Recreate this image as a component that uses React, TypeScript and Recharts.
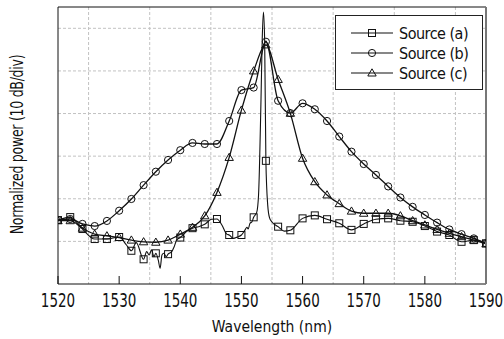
import { LineChart, Line, XAxis, YAxis, CartesianGrid, Legend, Label, ReferenceLine } from 'recharts'

// wavelengths (nm) where sources (b) and (c) are sampled, one marker each
const WAVE_BC = [
  1520, 1522, 1524, 1526, 1528, 1530, 1532, 1534, 1536, 1538, 1540, 1542,
  1544, 1546, 1548, 1550, 1552, 1554, 1556, 1558, 1560, 1562, 1564, 1566,
  1568, 1570, 1572, 1574, 1576, 1578, 1580, 1582, 1584, 1586, 1588, 1590,
]
const POWER_B = [
  -50.0, -49.75, -50.9, -51.4, -50.2, -47.8, -45.05, -41.8, -38.65, -35.9, -33.6, -31.9,
  -32.15, -32.15, -26.75, -19.5, -18.9, -8.15, -22.0, -24.9, -22.6, -24.0, -26.75, -30.4,
  -33.95, -36.85, -39.4, -42.1, -44.7, -46.9, -48.8, -50.6, -52.2, -53.3, -54.3, -55.45,
]
const POWER_C = [
  -50.15, -50.15, -51.9, -53.3, -53.7, -54.1, -54.7, -55.1, -55.2, -54.7, -53.3, -51.7,
  -49.0, -43.5, -35.3, -24.2, -15.0, -8.9, -17.0, -24.95, -35.5, -41.0, -44.1, -46.15,
  -47.9, -48.4, -48.4, -48.4, -49.0, -50.15, -51.15, -52.2, -53.1, -53.9, -54.7, -55.6,
]

// source (a) is a noisy trace with a narrow laser line near 1553.6 nm
const WAVE_A = [
  1520, 1522, 1524, 1526, 1528, 1530, 1531.2, 1532, 1532.8, 1534, 1534.5, 1534.9,
  1535.3, 1535.7, 1536, 1536.4, 1536.7, 1537, 1537.3, 1537.7, 1538, 1538.6, 1539, 1539.4,
  1540, 1541, 1542, 1543, 1544, 1545.1, 1546, 1546.8, 1547.6, 1548, 1548.7, 1549.3,
  1550, 1550.6, 1550.9, 1551.1, 1551.4, 1551.7, 1552, 1552.5, 1552.8, 1553.2, 1553.4, 1553.6,
  1553.8, 1554, 1554.3, 1554.6, 1555, 1556, 1557, 1558, 1560, 1562, 1564, 1566,
  1568, 1570, 1572, 1574, 1576, 1578, 1580, 1582, 1584, 1586, 1588, 1590,
]
const POWER_A = [
  -50.0, -49.3, -52.1, -54.45, -54.45, -53.97, -55.85, -57.2, -55.3, -59.2, -57.4, -58.2,
  -57.0, -58.6, -57.8, -59.4, -61.3, -58.2, -57.8, -58.6, -58.0, -57.4, -56.25, -54.7,
  -54.1, -52.7, -51.9, -51.55, -51.0, -49.8, -49.75, -51.15, -53.3, -53.5, -54.3, -54.0,
  -53.5, -52.3, -51.7, -52.1, -50.75, -50.45, -49.35, -48.2, -44.1, -21.8, -7.7, -1.2,
  -8.0, -36.1, -46.5, -49.5, -50.45, -51.55, -52.6, -52.4, -49.6, -48.9, -49.8, -50.75,
  -52.3, -50.9, -49.8, -49.6, -50.15, -50.4, -51.4, -52.7, -53.5, -55.1, -54.7, -55.45,
]

const X_TICKS = [1520, 1530, 1540, 1550, 1560, 1570, 1580, 1590]
const X_TOP_TICKS = [1520, 1525, 1530, 1535, 1540, 1545, 1550, 1555, 1560, 1565, 1570, 1575, 1580, 1585, 1590]
const X_GRID = [1525, 1535, 1545, 1555, 1565, 1575, 1585]
const Y_TICKS = [-60, -50, -40, -30, -20, -10, 0]
const Y_GRID = [-55, -45, -35, -25, -15, -5]

const dataA = WAVE_A.map((x, i) => ({ x, y: POWER_A[i] }))
const dataB = WAVE_BC.map((x, i) => ({ x, y: POWER_B[i] }))
const dataC = WAVE_BC.map((x, i) => ({ x, y: POWER_C[i] }))

const FONT = '"DejaVu Sans Condensed", "DejaVu Sans", sans-serif'
const INK = '#111'
const GRID = '#c2c2c2'

const onMarker = (x: number) => Math.abs(x / 2 - Math.round(x / 2)) < 1e-6

function Square({ cx, cy }: { cx: number; cy: number }) {
  return <rect x={cx - 3.5} y={cy - 3.5} width={7} height={7} fill="none" stroke={INK} strokeWidth={1} />
}
function Circle({ cx, cy }: { cx: number; cy: number }) {
  return <circle cx={cx} cy={cy} r={3.6} fill="none" stroke={INK} strokeWidth={1} />
}
function Triangle({ cx, cy }: { cx: number; cy: number }) {
  return <path d={`M${cx},${cy - 4.2}L${cx + 4.2},${cy + 3}L${cx - 4.2},${cy + 3}Z`} fill="none" stroke={INK} strokeWidth={1} />
}

const makeDot = (Shape: typeof Square) => (props: any) => {
  const { cx, cy, payload, index } = props
  if (!onMarker(payload.x)) return <g key={index} />
  return <g key={index}><Shape cx={cx} cy={cy} /></g>
}

// tall, narrow tick digits like the original plot
function XTick({ x, y, payload }: any) {
  return (
    <g transform={`translate(${x},${y})`}>
      <text textAnchor="middle" y={16.8} fontSize={15} fill="#111" transform="scale(1,1.35)">
        {payload.value}
      </text>
    </g>
  )
}

const SERIES = [
  { name: 'Source (a)', Shape: Square },
  { name: 'Source (b)', Shape: Circle },
  { name: 'Source (c)', Shape: Triangle },
]

function LegendBox() {
  return (
    <div style={{ border: '1px solid #222', background: '#fff', padding: '7px 0 6px 14px', fontFamily: FONT }}>
      {SERIES.map(({ name, Shape }) => (
        <div key={name} style={{ display: 'flex', alignItems: 'center', height: 20 }}>
          <svg width={44} height={20}>
            <line x1={1} y1={10} x2={43} y2={10} stroke={INK} strokeWidth={1.2} />
            <Shape cx={22} cy={10} />
          </svg>
          <span style={{ fontSize: 16, letterSpacing: -0.5, marginLeft: 5, color: '#111' }}>{name}</span>
        </div>
      ))}
    </div>
  )
}

export default function App() {
  return (
    <div style={{ position: 'absolute', left: 0, top: 0, fontFamily: FONT }}>
      <LineChart width={504} height={339} margin={{ top: 0, right: 8, bottom: 0, left: 0 }}>
        <CartesianGrid verticalValues={X_GRID} horizontal={false} stroke={GRID} strokeDasharray="3 2" />
        {Y_GRID.map((v) => (
          <ReferenceLine key={v} y={v} stroke={GRID} strokeDasharray="3 2" />
        ))}
        <XAxis
          type="number"
          dataKey="x"
          domain={[1520, 1590]}
          ticks={X_TICKS}
          height={55}
          tickSize={-8}
          tickMargin={8}
          stroke={INK}
          tick={<XTick />}
          allowDataOverflow
        >
          <Label value="Wavelength (nm)" position="insideBottom" offset={7} fill="#111" fontSize={15.5} />
        </XAxis>
        <XAxis
          xAxisId="top"
          orientation="top"
          type="number"
          dataKey="x"
          domain={[1520, 1590]}
          ticks={X_TOP_TICKS}
          height={7}
          tickSize={-5}
          tick={false}
          stroke={INK}
          allowDataOverflow
        />
        <YAxis
          type="number"
          domain={[-65, 0]}
          ticks={Y_TICKS}
          width={58}
          tickSize={5}
          tick={false}
          stroke={INK}
          allowDataOverflow
          label={{
            content: ({ viewBox }: any) => (
              <g transform={`translate(${viewBox.x + 18},${viewBox.y + viewBox.height / 2 - 1}) rotate(-90) scale(1,1.2)`}>
                <text
                  x={0}
                  y={0}
                  textAnchor="middle"
                  dominantBaseline="central"
                  fontSize={14}
                  letterSpacing={-0.3}
                  fill="#111"
                >
                  Normalized power (10 dB/div)
                </text>
              </g>
            ),
          }}
        />
        <YAxis
          yAxisId="right"
          orientation="right"
          type="number"
          domain={[-65, 0]}
          ticks={Y_GRID}
          width={10}
          tickSize={-4}
          tick={false}
          stroke="#777"
          strokeWidth={2}
          allowDataOverflow
        />
        <Legend
          layout="horizontal"
          verticalAlign="middle"
          align="center"
          wrapperStyle={{ top: 15, left: 335, width: 148 }}
          content={() => <LegendBox />}
        />
        <Line data={dataB} dataKey="y" name="Source (b)" type="monotone" stroke={INK} strokeWidth={1.3} dot={makeDot(Circle)} activeDot={false} isAnimationActive={false} />
        <Line data={dataC} dataKey="y" name="Source (c)" type="monotone" stroke={INK} strokeWidth={1.3} dot={makeDot(Triangle)} activeDot={false} isAnimationActive={false} />
        <Line data={dataA} dataKey="y" name="Source (a)" type="monotone" stroke={INK} strokeWidth={1.1} dot={makeDot(Square)} activeDot={false} isAnimationActive={false} />
      </LineChart>
    </div>
  )
}
